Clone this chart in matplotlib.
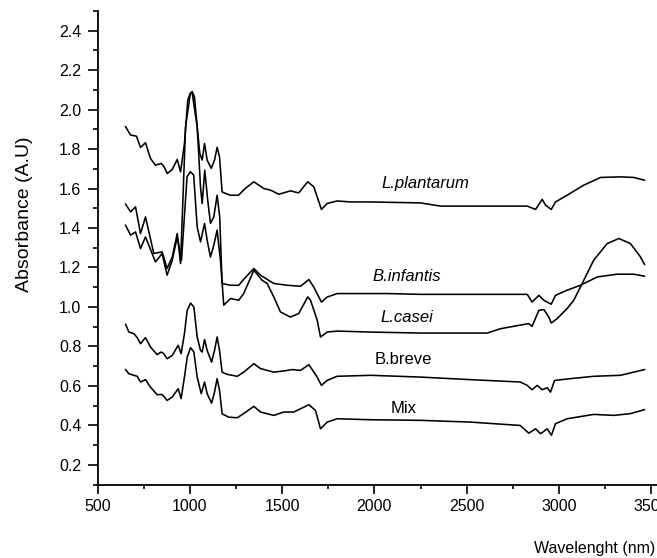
import matplotlib
matplotlib.use("Agg")
import matplotlib.pyplot as plt
from matplotlib.ticker import MultipleLocator

plt.rcParams['font.family'] = ['Liberation Sans', 'DejaVu Sans']

# ---------------- data ----------------
plantarum_x = [652, 679, 711, 733, 760, 787, 814, 845, 859, 878, 905, 932, 950, 971, 989, 1002, 1013, 1025,
               1040, 1054, 1067, 1080, 1094, 1116, 1134, 1148, 1161, 1175, 1193, 1220, 1264, 1300, 1347,
               1401, 1437, 1482, 1545, 1590, 1639, 1672, 1713, 1744, 1798, 1870, 1979, 2250, 2358, 2611,
               2828, 2873, 2909, 2927, 2958, 2981, 3044, 3134, 3225, 3333, 3405, 3463]
plantarum_y = [1.913, 1.871, 1.865, 1.808, 1.832, 1.752, 1.718, 1.727, 1.713, 1.676, 1.697, 1.747, 1.684,
               1.828, 2.048, 2.080, 2.090, 2.065, 1.913, 1.778, 1.744, 1.828, 1.744, 1.702, 1.744, 1.808, 1.760,
               1.583, 1.575, 1.566, 1.566, 1.600, 1.634, 1.600, 1.592, 1.571, 1.588, 1.578, 1.634, 1.608,
               1.494, 1.524, 1.537, 1.532, 1.532, 1.527, 1.511, 1.511, 1.511, 1.494, 1.545, 1.516, 1.494,
               1.532, 1.566, 1.617, 1.656, 1.659, 1.656, 1.642]

infantis_x = [652, 679, 706, 733, 760, 805, 850, 877, 905, 932, 950, 977, 1003, 1012, 1040, 1058, 1067,
              1081, 1097, 1112, 1130, 1148, 1162, 1175, 1220, 1265, 1292, 1347, 1383, 1455, 1528, 1600,
              1645, 1672, 1713, 1744, 1798, 2069, 2250, 2828, 2854, 2891, 2918, 2958, 2981, 3044, 3116,
              3207, 3315, 3405, 3463]
infantis_y = [1.521, 1.482, 1.507, 1.372, 1.456, 1.271, 1.279, 1.195, 1.253, 1.372, 1.220, 1.913, 2.082,
              2.090, 1.913, 1.608, 1.524, 1.693, 1.541, 1.423, 1.456, 1.566, 1.456, 1.119, 1.110, 1.110,
              1.140, 1.195, 1.161, 1.119, 1.110, 1.105, 1.139, 1.100, 1.025, 1.050, 1.068, 1.068, 1.064,
              1.064, 1.025, 1.059, 1.034, 1.014, 1.059, 1.085, 1.110, 1.152, 1.166, 1.166, 1.156]

casei_x = [652, 679, 706, 733, 760, 814, 850, 877, 905, 932, 955, 985, 1003, 1021, 1040, 1058, 1080, 1094,
           1112, 1130, 1148, 1166, 1184, 1220, 1265, 1292, 1347, 1392, 1419, 1455, 1491, 1545, 1590, 1639,
           1654, 1690, 1708, 1744, 1798, 1979, 2250, 2611, 2683, 2836, 2854, 2891, 2918, 2945, 2958, 2990,
           3044, 3080, 3116, 3188, 3261, 3324, 3387, 3441, 3463]
casei_y = [1.414, 1.364, 1.380, 1.296, 1.355, 1.228, 1.271, 1.161, 1.237, 1.355, 1.237, 1.659, 1.685, 1.668,
           1.406, 1.330, 1.423, 1.338, 1.253, 1.313, 1.389, 1.237, 1.009, 1.043, 1.034, 1.068, 1.186, 1.135,
           1.119, 1.051, 0.975, 0.949, 0.967, 1.051, 1.034, 0.933, 0.848, 0.873, 0.878, 0.873, 0.868, 0.868,
           0.890, 0.916, 0.902, 0.983, 0.987, 0.949, 0.919, 0.941, 0.992, 1.034, 1.101, 1.237, 1.321, 1.347,
           1.321, 1.254, 1.216]

breve_x = [652, 670, 697, 715, 733, 760, 787, 823, 845, 859, 877, 905, 937, 953, 971, 986, 1004, 1022, 1040,
           1058, 1067, 1080, 1094, 1118, 1134, 1148, 1161, 1175, 1202, 1257, 1292, 1347, 1383, 1455, 1509,
           1555, 1600, 1645, 1690, 1713, 1744, 1798, 1979, 2250, 2521, 2790, 2828, 2854, 2882, 2909, 2936,
           2954, 2976, 3062, 3188, 3333, 3463]
breve_y = [0.912, 0.873, 0.865, 0.845, 0.814, 0.845, 0.797, 0.759, 0.772, 0.764, 0.738, 0.755, 0.806, 0.764,
           0.865, 0.983, 1.020, 1.000, 0.848, 0.780, 0.772, 0.835, 0.780, 0.721, 0.780, 0.848, 0.780, 0.670,
           0.659, 0.649, 0.670, 0.713, 0.688, 0.670, 0.676, 0.683, 0.679, 0.708, 0.645, 0.603, 0.628, 0.649,
           0.654, 0.645, 0.632, 0.620, 0.603, 0.581, 0.603, 0.581, 0.591, 0.569, 0.628, 0.637, 0.649, 0.654,
           0.683]

mix_x = [652, 670, 697, 715, 733, 760, 787, 823, 850, 877, 905, 937, 953, 971, 986, 1004, 1022, 1040, 1062,
         1080, 1094, 1118, 1134, 1148, 1161, 1175, 1211, 1257, 1292, 1347, 1383, 1455, 1509, 1563, 1645,
         1681, 1708, 1744, 1798, 1979, 2250, 2521, 2790, 2836, 2873, 2900, 2936, 2959, 2981, 3044, 3188,
         3297, 3387, 3463]
mix_y = [0.683, 0.662, 0.654, 0.649, 0.620, 0.632, 0.594, 0.556, 0.557, 0.527, 0.544, 0.586, 0.536, 0.645,
         0.746, 0.794, 0.772, 0.645, 0.561, 0.620, 0.561, 0.513, 0.569, 0.637, 0.578, 0.459, 0.442, 0.439,
         0.460, 0.497, 0.468, 0.451, 0.468, 0.468, 0.505, 0.476, 0.383, 0.417, 0.434, 0.429, 0.426, 0.417,
         0.400, 0.361, 0.383, 0.358, 0.383, 0.350, 0.409, 0.434, 0.456, 0.451, 0.460, 0.480]

series_labels = ["L.plantarum", "B.infantis", "L.casei", "B.breve", "Mix"]
label_x = [2277, 2178, 2174, 2159, 2156]
label_y = [1.626, 1.156, 0.949, 0.733, 0.485]
label_italic = [True, True, True, False, False]

x_ticks = [500, 1000, 1500, 2000, 2500, 3000, 3500]
y_ticks = [0.2, 0.4, 0.6, 0.8, 1.0, 1.2, 1.4, 1.6, 1.8, 2.0, 2.2, 2.4]

# ---------------- figure ----------------
W, H = 657, 558
fig = plt.figure(figsize=(W / 100, H / 100), dpi=100)
left_px, right_px, top_px, bottom_px = 97.5, 657, 10.8, 484.7
ax = fig.add_axes([left_px / W, 1 - bottom_px / H, (right_px - left_px) / W, (bottom_px - top_px) / H])

for xs, ys in [(plantarum_x, plantarum_y), (infantis_x, infantis_y), (casei_x, casei_y),
               (breve_x, breve_y), (mix_x, mix_y)]:
    ax.plot(xs, ys, color='black', lw=1.15)

for t, tx, ty, it in zip(series_labels, label_x, label_y, label_italic):
    ax.text(tx, ty, t, fontsize=12, style='italic' if it else 'normal', ha='center', va='center')

ax.set_xlim(500, 500 + (right_px - left_px) * 500 / 92.3)
ax.set_ylim(0.1, 2.5)
ax.set_xticks(x_ticks)
ax.set_xticklabels([str(v) for v in x_ticks])
ax.set_yticks(y_ticks)
ax.set_yticklabels([f"{v:.1f}" for v in y_ticks])
ax.xaxis.set_minor_locator(MultipleLocator(250))
ax.yaxis.set_minor_locator(MultipleLocator(0.1))

for s in ['top', 'right']:
    ax.spines[s].set_visible(False)
for s in ['left', 'bottom']:
    ax.spines[s].set_linewidth(1.3)

ax.tick_params(axis='x', which='major', direction='out', length=6.3, width=1.2, pad=4, labelsize=11.5)
ax.tick_params(axis='x', which='minor', direction='out', length=2.8, width=1.2)
ax.tick_params(axis='y', which='major', direction='out', length=7.2, width=1.2, pad=4.5, labelsize=11.5)
ax.tick_params(axis='y', which='minor', direction='out', length=3.6, width=1.2)

fig.text(25 / W, 1 - 214 / H, "Absorbance (A.U)", rotation=90, fontsize=14, ha='center', va='center')
fig.text(655 / W, 1 - 548 / H, "Wavelenght (nm)", fontsize=11.5, ha='right', va='center')

fig.savefig("out.png", dpi=100)
